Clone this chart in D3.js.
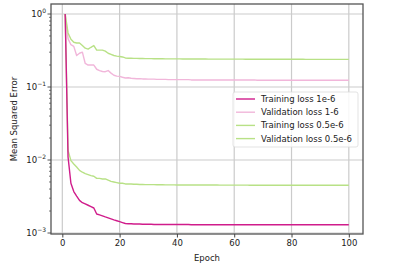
<!DOCTYPE html>
<html>
<head>
<meta charset="utf-8">
<script src="https://cdn.jsdelivr.net/npm/d3@7"></script>
<style>
  body { margin: 0; background: #fff; }
  svg text { font-family: "DejaVu Sans", sans-serif; fill: #222; }
</style>
</head>
<body>
<svg id="chart" width="403" height="269"></svg>
<script>
const seriesNames = ["Training loss 1e-6", "Validation loss 1-6", "Training loss 0.5e-6", "Validation loss 0.5e-6"];
const seriesColors = ["#d01c8b", "#f1b6da", "#b8e186", "#b8e186"];

const trainLoss1 = [
  1.0, 0.011, 0.0048, 0.0037, 0.0032, 0.0028, 0.0026, 0.0025, 0.0024, 0.0023,
  0.0022, 0.00182, 0.00177, 0.00172, 0.00166, 0.00161, 0.00156, 0.00151, 0.00147, 0.00143,
  0.00139, 0.00135, 0.00134, 0.00134, 0.00133, 0.00133, 0.00133, 0.00132, 0.00132, 0.00132,
  0.00132, 0.00131, 0.00131, 0.00131, 0.00131, 0.00131, 0.00131, 0.00131, 0.00131, 0.00131,
  0.00131, 0.00131, 0.00131, 0.00131, 0.00130, 0.00130, 0.00130, 0.00130, 0.00130, 0.00130,
  0.00130, 0.00130, 0.00130, 0.00130, 0.00130, 0.00130, 0.00130, 0.00130, 0.00130, 0.00130,
  0.00130, 0.00130, 0.00130, 0.00130, 0.00130, 0.00130, 0.00130, 0.00130, 0.00130, 0.00130,
  0.00130, 0.00130, 0.00130, 0.00130, 0.00130, 0.00130, 0.00130, 0.00130, 0.00130, 0.00130,
  0.00130, 0.00130, 0.00130, 0.00130, 0.00130, 0.00130, 0.00130, 0.00130, 0.00130, 0.00130,
  0.00130, 0.00130, 0.00130, 0.00130, 0.00130, 0.00130, 0.00130, 0.00130, 0.00130, 0.00130
];
const valLoss1 = [
  1.0, 0.46, 0.38, 0.36, 0.27, 0.29, 0.30, 0.21, 0.20, 0.20,
  0.20, 0.175, 0.168, 0.163, 0.162, 0.168, 0.155, 0.145, 0.141, 0.140,
  0.136, 0.133, 0.134, 0.132, 0.131, 0.130, 0.130, 0.129, 0.129, 0.128,
  0.128, 0.128, 0.127, 0.127, 0.127, 0.127, 0.126, 0.126, 0.126, 0.126,
  0.126, 0.126, 0.126, 0.126, 0.125, 0.125, 0.125, 0.125, 0.125, 0.125,
  0.125, 0.125, 0.125, 0.125, 0.125, 0.125, 0.125, 0.125, 0.125, 0.125,
  0.125, 0.125, 0.125, 0.125, 0.125, 0.125, 0.125, 0.124, 0.124, 0.124,
  0.124, 0.124, 0.124, 0.124, 0.124, 0.124, 0.124, 0.124, 0.124, 0.124,
  0.124, 0.124, 0.124, 0.124, 0.124, 0.124, 0.124, 0.124, 0.124, 0.124,
  0.124, 0.124, 0.124, 0.124, 0.124, 0.124, 0.124, 0.124, 0.124, 0.124
];
const trainLoss05 = [
  1.0, 0.0135, 0.0098, 0.0088, 0.0080, 0.0072, 0.0068, 0.0065, 0.0063, 0.0061,
  0.0060, 0.0056, 0.0056, 0.0055, 0.0055, 0.0053, 0.0051, 0.0050, 0.0049, 0.0048,
  0.0048, 0.0047, 0.0047, 0.0047, 0.00465, 0.00465, 0.00462, 0.00462, 0.0046, 0.0046,
  0.0046, 0.0046, 0.00458, 0.00458, 0.00458, 0.00456, 0.00456, 0.00456, 0.00456, 0.00455,
  0.00455, 0.00455, 0.00455, 0.00455, 0.00455, 0.00455, 0.00454, 0.00454, 0.00454, 0.00454,
  0.00454, 0.00454, 0.00454, 0.00454, 0.00453, 0.00453, 0.00453, 0.00453, 0.00453, 0.00453,
  0.00453, 0.00453, 0.00453, 0.00453, 0.00452, 0.00452, 0.00452, 0.00452, 0.00452, 0.00452,
  0.00452, 0.00452, 0.00452, 0.00452, 0.00452, 0.00451, 0.00451, 0.00451, 0.00451, 0.00451,
  0.00451, 0.00451, 0.00451, 0.00451, 0.00451, 0.00451, 0.00451, 0.00451, 0.00450, 0.00450,
  0.00450, 0.00450, 0.00450, 0.00450, 0.00450, 0.00450, 0.00450, 0.00450, 0.00450, 0.00450
];
const valLoss05 = [
  1.0, 0.55, 0.45, 0.41, 0.40, 0.40, 0.37, 0.34, 0.33, 0.35,
  0.37, 0.32, 0.32, 0.32, 0.31, 0.29, 0.28, 0.27, 0.265, 0.262,
  0.258, 0.250, 0.248, 0.248, 0.247, 0.247, 0.246, 0.246, 0.245, 0.245,
  0.245, 0.244, 0.244, 0.244, 0.244, 0.243, 0.243, 0.243, 0.243, 0.243,
  0.243, 0.242, 0.242, 0.242, 0.242, 0.242, 0.242, 0.242, 0.242, 0.242,
  0.241, 0.241, 0.241, 0.241, 0.241, 0.241, 0.241, 0.241, 0.241, 0.241,
  0.241, 0.241, 0.241, 0.240, 0.240, 0.240, 0.240, 0.240, 0.240, 0.240,
  0.240, 0.240, 0.240, 0.240, 0.240, 0.240, 0.240, 0.240, 0.240, 0.240,
  0.240, 0.240, 0.240, 0.240, 0.239, 0.239, 0.239, 0.239, 0.239, 0.239,
  0.239, 0.239, 0.239, 0.239, 0.239, 0.239, 0.239, 0.239, 0.239, 0.239
];
const xTicks = [0, 20, 40, 60, 80, 100];
const yTicks = [1, 0.1, 0.01, 0.001];
const yTickExp = ["0", "\u22121", "\u22122", "\u22123"];

const allSeries = [trainLoss1, valLoss1, trainLoss05, valLoss05];
// validation lines first so the training lines sit on top like the reference
const drawOrder = [1, 3, 2, 0];

const m = { left: 51, right: 363, top: 4, bottom: 234 };
const svg = d3.select("#chart");

const x = d3.scaleLinear().domain([-3.95, 104.95]).range([m.left, m.right]);
const y = d3.scaleLog().domain([Math.pow(10, -3 - 1 / 73), Math.pow(10, 10 / 73)]).range([m.bottom, m.top]);

// grid
const grid = svg.append("g");
grid.selectAll(".gx").data(xTicks).join("line")
  .attr("x1", d => x(d)).attr("x2", d => x(d))
  .attr("y1", m.top).attr("y2", m.bottom)
  .attr("stroke", "#cbcbcb").attr("stroke-width", 1.2);
grid.selectAll(".gy").data(yTicks).join("line")
  .attr("x1", m.left).attr("x2", m.right)
  .attr("y1", d => y(d)).attr("y2", d => y(d))
  .attr("stroke", "#cbcbcb").attr("stroke-width", 1.2);

// lines
const line = d3.line().x((d, i) => x(i + 1)).y(d => y(d));
const plot = svg.append("g");
drawOrder.forEach(k => {
  plot.append("path")
    .datum(allSeries[k])
    .attr("d", line)
    .attr("fill", "none")
    .attr("stroke", seriesColors[k])
    .attr("stroke-width", 1.4)
    .attr("stroke-linejoin", "round");
});

// frame
svg.append("rect")
  .attr("x", m.left).attr("y", m.top)
  .attr("width", m.right - m.left).attr("height", m.bottom - m.top)
  .attr("fill", "none").attr("stroke", "#555").attr("stroke-width", 1.3);

// x axis
const xAxis = svg.append("g").attr("transform", `translate(0,${m.bottom})`)
  .call(d3.axisBottom(x).tickValues(xTicks).tickSize(3.5).tickPadding(2.5));
xAxis.select(".domain").remove();
xAxis.selectAll("text").attr("font-size", 8.5).attr("font-family", "DejaVu Sans").attr("fill", "#222");
xAxis.selectAll("line").attr("stroke", "#444");

// y axis ticks (major + minor)
const minor = [];
[0.001, 0.01, 0.1, 1].forEach(b => { for (let j = 2; j <= 9; j++) { const v = b * j; if (y(v) >= m.top) minor.push(v); } });
svg.append("g").selectAll("line").data(minor).join("line")
  .attr("x1", m.left - 2).attr("x2", m.left)
  .attr("y1", d => y(d)).attr("y2", d => y(d))
  .attr("stroke", "#444").attr("stroke-width", 0.7);
svg.append("g").selectAll("line").data(yTicks).join("line")
  .attr("x1", m.left - 3.5).attr("x2", m.left)
  .attr("y1", d => y(d)).attr("y2", d => y(d))
  .attr("stroke", "#444").attr("stroke-width", 0.9);

const yl = svg.append("g").selectAll("text").data(yTicks).join("text")
  .attr("x", m.left - 5)
  .attr("y", d => y(d) + 3)
  .attr("text-anchor", "end")
  .attr("font-size", 8.5);
yl.append("tspan").text("10");
yl.append("tspan").attr("dy", -4).attr("font-size", 6).text((d, i) => yTickExp[i]);

// axis labels
svg.append("text").attr("x", (m.left + m.right) / 2).attr("y", 261)
  .attr("text-anchor", "middle").attr("font-size", 8.5).text("Epoch");
svg.append("text").attr("transform", `translate(17,${(m.top + m.bottom) / 2}) rotate(-90)`)
  .attr("text-anchor", "middle").attr("font-size", 8.5).text("Mean Squared Error");

// legend
const lg = svg.append("g");
lg.append("rect").attr("x", 233).attr("y", 92).attr("width", 125).attr("height", 55)
  .attr("rx", 2).attr("fill", "#fff").attr("fill-opacity", 0.85)
  .attr("stroke", "#dcdcdc").attr("stroke-width", 0.8);
const items = lg.selectAll("g.item").data(seriesNames).join("g")
  .attr("transform", (d, i) => `translate(0,${99 + i * 13.2})`);
items.append("line").attr("x1", 236).attr("x2", 255).attr("y1", 0).attr("y2", 0)
  .attr("stroke", (d, i) => seriesColors[i]).attr("stroke-width", 1.4);
items.append("text").attr("x", 261).attr("y", 3).attr("font-size", 8.5).text(d => d);
</script>
</body>
</html>
